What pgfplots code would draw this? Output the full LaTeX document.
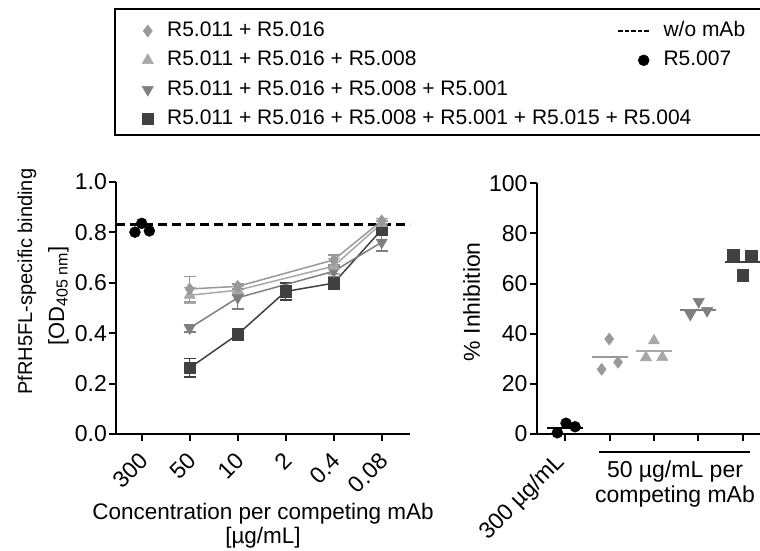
\documentclass[border=0pt]{standalone}
\usepackage{fontspec}
\setmainfont{Liberation Sans}
\usepackage{pgfplots}
\pgfplotsset{compat=1.18}

\definecolor{cdia}{HTML}{999999}
\definecolor{ctri}{HTML}{A8A8A8}
\definecolor{ctrd}{HTML}{7F7F7F}
\definecolor{csq}{HTML}{404040}

\newcommand{\fs}{\fontsize{21}{25}\selectfont}
\newcommand{\fl}{\fontsize{23}{25}\selectfont}

\pgfplotsset{
  panel/.style={
    scale only axis,
    axis lines=left,
    axis line style={-, line width=2pt, black},
    tick align=outside,
    major tick length=7pt,
    tick style={line width=2pt, black},
    ticklabel style={font=\fl},
    label style={font=\fl},
    clip=false,
    legend style={draw=none, fill=none, inner sep=0pt, outer sep=0pt,
      row sep=10.3pt, column sep=13.5pt, anchor=north west,
      nodes={inner sep=0pt, text height=15pt, text depth=4pt, font=\fs}},
    legend cell align=left,
  },
  mk legend/.style={legend image code/.code={\draw[##1] plot coordinates {(0pt,0pt)};}},
  dash legend/.style={legend image code/.code={\draw[##1] (-31pt,0pt) -- (0pt,0pt);}},
  rmk legend/.style={legend image code/.code={\draw[##1] plot coordinates {(-5.3pt,0pt)};}},
  dia/.style={cdia, line width=1.5pt, mark=diamond*, mark size=6pt, mark options={solid, fill=cdia, line width=0.5pt}},
  tri/.style={ctri, line width=1.5pt, mark=triangle*, mark size=6.5pt, mark options={solid, fill=ctri, line width=0.5pt}},
  trd/.style={ctrd, line width=1.5pt, mark=triangle*, mark size=6.5pt, mark options={solid, fill=ctrd, rotate=180, line width=0.5pt}},
  sq/.style={csq, line width=1.5pt, mark=square*, mark size=5.8pt, mark options={solid, fill=csq, line width=0.5pt}},
  circ/.style={black, mark=*, mark size=5.5pt, mark options={solid, fill=black}},
  eb/.style={error bars/.cd, y dir=both, y explicit,
    error bar style={line width=1.5pt, #1},
    error mark options={rotate=90, mark size=6pt, line width=1.5pt, #1}},
  meanbar/.style={only marks, mark=-, mark size=18pt, mark options={line width=2pt, #1}},
}

\begin{document}
\begin{tikzpicture}[font=\fs]
\useasboundingbox (0,0) rectangle (760pt,550pt);

% left panel: binding vs concentration
\begin{axis}[panel,
  at={(116pt,116pt)}, anchor=south west,
  width=294pt, height=252.3pt,
  xmin=-0.535, xmax=5.59, ymin=0, ymax=1.0,
  xtick={0,1,2,3,4,5},
  xticklabels={300,50,10,2,0.4,0.08},
  x tick label style={xshift=2.5pt, yshift=-16pt, rotate=45, anchor=east, inner sep=0pt},
  ytick={0,0.2,0.4,0.6,0.8,1.0},
  yticklabels={0.0,0.2,0.4,0.6,0.8,1.0},
  y tick label style={inner sep=0pt, xshift=-2pt},
  xlabel={Concentration per competing mAb\\{}[µg/mL]},
  xlabel style={at={(axis description cs:0.5,-0.274)}, anchor=north, align=center, inner sep=0pt, font=\fontsize{22.5}{23.5}\selectfont},
  ylabel={{\fontsize{20}{20}\selectfont PfRH5FL-specific binding}\\[7pt]{\fontsize{22}{22}\selectfont [OD{\fontsize{16}{16}\selectfont\raisebox{-3.5pt}{405 nm}}]}\hspace*{29pt}},
  ylabel style={at={(axis description cs:-0.248,0.604)}, anchor=center, align=center, inner sep=0pt, font=\fs},
  legend style={at={(axis description cs:0.0884,1.635)}},
]
\addplot[black, line width=2.2pt, dash pattern=on 9pt off 5pt, forget plot]
  coordinates {(-0.535,0.83) (5.59,0.83)};
\addplot[circ, only marks, forget plot] coordinates {(-0.14,0.80) (0,0.835) (0.16,0.805)};
\addplot[sq, forget plot, eb=csq] coordinates {
  (1,0.262) +- (0,0.037)
  (2,0.395) +- (0,0.008)
  (3,0.565) +- (0,0.033)
  (4,0.598) +- (0,0.010)
  (5,0.810) +- (0,0.020)
};
\addplot[trd, forget plot, eb=ctrd] coordinates {
  (1,0.420) +- (0,0.015)
  (2,0.540) +- (0,0.045)
  (4,0.645) +- (0,0.020)
  (5,0.760) +- (0,0.035)
};
\addplot[tri, forget plot, eb=ctri] coordinates {
  (1,0.550) +- (0,0.030)
  (2,0.570) +- (0,0.015)
  (4,0.665) +- (0,0.030)
  (5,0.835) +- (0,0.010)
};
\addplot[dia, forget plot, eb=cdia] coordinates {
  (1,0.575) +- (0,0.050)
  (2,0.585) +- (0,0.010)
  (4,0.690) +- (0,0.020)
  (5,0.845) +- (0,0.010)
};
\addlegendimage{dia, only marks, mk legend}
\addlegendentry{R5.011 + R5.016}
\addlegendimage{tri, only marks, mk legend}
\addlegendentry{R5.011 + R5.016 + R5.008}
\addlegendimage{trd, only marks, mk legend}
\addlegendentry{R5.011 + R5.016 + R5.008 + R5.001}
\addlegendimage{sq, only marks, mk legend}
\addlegendentry{R5.011 + R5.016 + R5.008 + R5.001 + R5.015 + R5.004}
\end{axis}

% right panel: % inhibition
\begin{axis}[panel,
  at={(536.7pt,116pt)}, anchor=south west,
  width=240pt, height=250.7pt,
  xmin=-0.646, xmax=4.77, ymin=0, ymax=100,
  xtick={0,1,2,3,4},
  xticklabels={{300 µg/mL},{},{},{},{}},
  x tick label style={xshift=-4pt, yshift=-18pt, rotate=45, anchor=east, inner sep=0pt},
  ytick={0,20,40,60,80,100},
  yticklabels={0,20,40,60,80,100},
  y tick label style={inner sep=0pt, xshift=-2pt},
  ylabel={\% Inhibition},
  ylabel style={at={(axis description cs:-0.271,0.528)}, anchor=center, inner sep=0pt},
  legend style={at={(axis description cs:0.3346,1.6454)}},
]
\addplot[circ, only marks, forget plot] coordinates {(-0.18,0.5) (0.016,4.3) (0.22,2.9)};
\addplot[dia, only marks, forget plot] coordinates {(0.82,25.8) (0.99,37.9) (1.19,28.6)};
\addplot[tri, only marks, forget plot] coordinates {(1.82,30.5) (2.0,37.2) (2.19,30.6)};
\addplot[trd, only marks, forget plot] coordinates {(2.82,47.7) (3.01,52.8) (3.2,49.2)};
\addplot[sq, only marks, forget plot] coordinates {(3.79,71.4) (4.0,63.4) (4.19,71.0)};
\addplot[meanbar=black, forget plot] coordinates {(0,2.5)};
\addplot[meanbar=cdia, forget plot] coordinates {(1,30.9)};
\addplot[meanbar=ctri, forget plot] coordinates {(2,33.2)};
\addplot[meanbar=ctrd, forget plot] coordinates {(3,49.5)};
\addplot[meanbar=csq, forget plot] coordinates {(4,68.7)};
\addlegendimage{black, line width=2pt, dash pattern=on 4.5pt off 2pt, dash legend}
\addlegendentry{w/o mAb}
\addlegendimage{circ, only marks, rmk legend}
\addlegendentry{R5.007}
\end{axis}

\draw[line width=2pt] (115pt,415pt) rectangle (800pt,540.7pt);
\draw[line width=2pt] (599pt,97.7pt) -- (750pt,97.7pt);
\node[align=center, anchor=north, inner sep=0pt, font=\fl] at (675pt,89.5pt) {50 µg/mL per\\competing mAb};
\end{tikzpicture}
\end{document}
